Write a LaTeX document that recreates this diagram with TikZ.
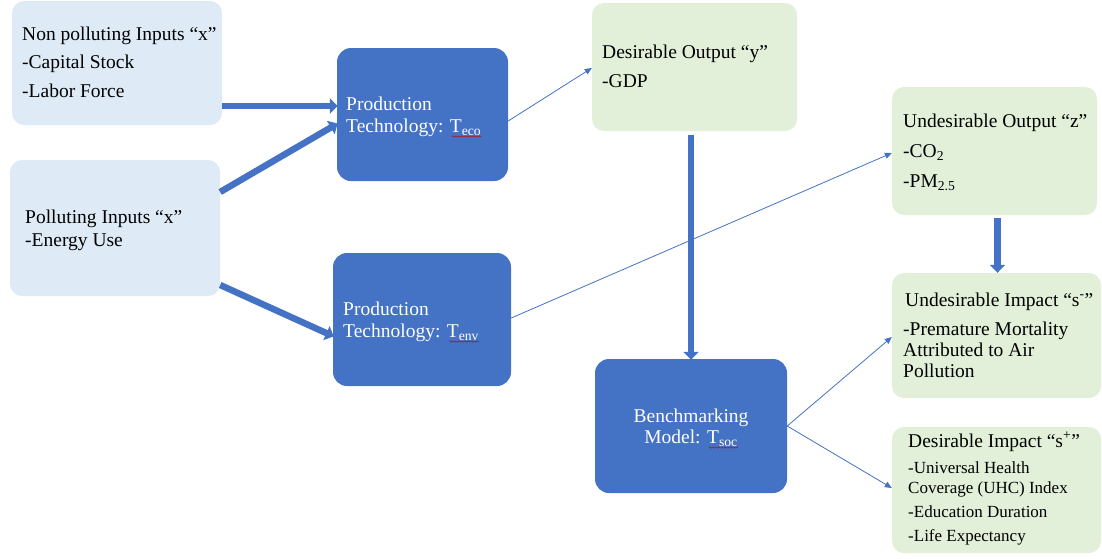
\documentclass[tikz,border=0pt]{standalone}
\usepackage{fontspec}
\setmainfont{Liberation Serif}
\usetikzlibrary{arrows.meta,calc,decorations.pathmorphing}
\definecolor{lblue}{HTML}{DEEBF7}
\definecolor{lgreen}{HTML}{E2F0D9}
\definecolor{mblue}{HTML}{4472C4}
\begin{document}
\begin{tikzpicture}[x=1pt,y=-1pt,
  box/.style={rectangle,rounded corners=12pt,inner sep=0pt,draw=none},
  inbox/.style={box,fill=lblue},
  outbox/.style={box,fill=lgreen},
  techbox/.style={box,fill=mblue,rounded corners=14pt},
  txt/.style={anchor=base west,inner sep=0pt,font=\fontsize{19.5}{22}\selectfont},
  stxt/.style={anchor=base west,inner sep=0pt,font=\fontsize{17}{19}\selectfont},
  wtxt/.style={txt,text=white},
  bigarrow/.style={draw=mblue,line width=6.5pt,-{Triangle[width=15pt,length=8pt]},shorten >=-1pt},
  thinarrow/.style={draw=mblue,line width=0.8pt,-{Triangle[width=6pt,length=7pt]}},
  squiggle/.style={draw=red!80!black,line width=0.5pt,decorate,decoration={snake,amplitude=0.7pt,segment length=3pt}}
]
\useasboundingbox (0,0) rectangle (1102,558);
% boxes
\node[inbox,minimum width=210pt,minimum height=124pt] (np) at (117,63) {};
\node[inbox,minimum width=210pt,minimum height=136pt] (pol) at (115,228) {};
\node[techbox,minimum width=171pt,minimum height=133pt] (teco) at (422.5,114.5) {};
\node[techbox,minimum width=178pt,minimum height=133pt] (tenv) at (422,319.5) {};
\node[outbox,minimum width=205pt,minimum height=128pt] (dout) at (694.5,67) {};
\node[outbox,minimum width=205pt,minimum height=128pt] (uout) at (994.5,151) {};
\node[outbox,minimum width=209pt,minimum height=125pt] (uimp) at (996.5,335.5) {};
\node[outbox,minimum width=209pt,minimum height=126pt] (dimp) at (996.5,490) {};
\node[techbox,minimum width=192pt,minimum height=134pt] (bench) at (691,426) {};
% texts
\node[txt] (np1) at (22,40) {Non polluting Inputs “x”};
\node[txt] (np2) at (22,68) {-Capital Stock};
\node[txt] (np3) at (22,97) {-Labor Force};
\node[txt] (pol1) at (25,223) {Polluting Inputs “x”};
\node[txt] (pol2) at (25,246) {-Energy Use};
\node[wtxt] (teco1) at (346,110) {Production};
\node[wtxt] (teco2) at (346,132) {Technology: T\textsubscript{eco}};
\node[wtxt] (tenv1) at (343,315) {Production};
\node[wtxt] (tenv2) at (343,337) {Technology: T\textsubscript{env}};
\node[txt] (dout1) at (602,58) {Desirable Output “y”};
\node[txt] (dout2) at (602,87) {-GDP};
\node[txt] (uout1) at (903,127) {Undesirable Output “z”};
\node[txt] (uout2) at (903,157) {-CO\textsubscript{2}};
\node[txt] (uout3) at (903,187) {-PM\textsubscript{2.5}};
\node[txt] (uimp1) at (905,306) {Undesirable Impact “s\textsuperscript{-}”};
\node[txt] (uimp2) at (903,335) {-Premature Mortality};
\node[txt] (uimp3) at (903,356) {Attributed to Air};
\node[txt] (uimp4) at (903,377) {Pollution};
\node[txt] (dimp1) at (908,447) {Desirable Impact “s\textsuperscript{+}”};
\node[stxt] (dimp2) at (908,473) {-Universal Health};
\node[stxt] (dimp3) at (908,493) {Coverage (UHC) Index};
\node[stxt] (dimp4) at (908,517) {-Education Duration};
\node[stxt] (dimp5) at (908,541) {-Life Expectancy};
\node[wtxt,anchor=base] (bench1) at (691,422) {Benchmarking};
\node[wtxt,anchor=base] (bench2) at (691,443) {Model: T\textsubscript{soc}};
% spell-check underlines
\draw[squiggle] ([xshift=-29.5pt,yshift=-4.5pt]teco2.base east) -- ([yshift=-4.5pt]teco2.base east);
\draw[squiggle] ([xshift=-30pt,yshift=-4.5pt]tenv2.base east) -- ([yshift=-4.5pt]tenv2.base east);
\draw[squiggle] ([xshift=-29pt,yshift=-4.5pt]bench2.base east) -- ([yshift=-4.5pt]bench2.base east);
% thick arrows
\draw[bigarrow] ([yshift=-43pt]np.east) -- ([yshift=-43pt]np.east -| teco.west);
\draw[bigarrow] ([yshift=36pt]pol.east) -- ([yshift=-9.5pt]teco.west);
\draw[bigarrow] ([yshift=-57pt]pol.east) -- ([yshift=-16.5pt]tenv.west);
\draw[bigarrow] ([yshift=-4pt]dout.south -| bench.north) -- (bench.north);
\draw[bigarrow] ([xshift=3pt,yshift=-3pt]uout.south) -- ([xshift=3pt,yshift=1pt]uout.south |- uimp.north);
% thin arrows
\draw[thinarrow] ([yshift=-6.5pt]teco.east) -- ([yshift=-1pt]dout.west);
\draw[thinarrow] ([yshift=1.5pt]tenv.east) -- ([yshift=-2pt]uout.west);
\draw[thinarrow] (bench.east) -- ([yshift=-1.5pt]uimp.west);
\draw[thinarrow] (bench.east) -- ([yshift=2pt]dimp.west);
\end{tikzpicture}
\end{document}
